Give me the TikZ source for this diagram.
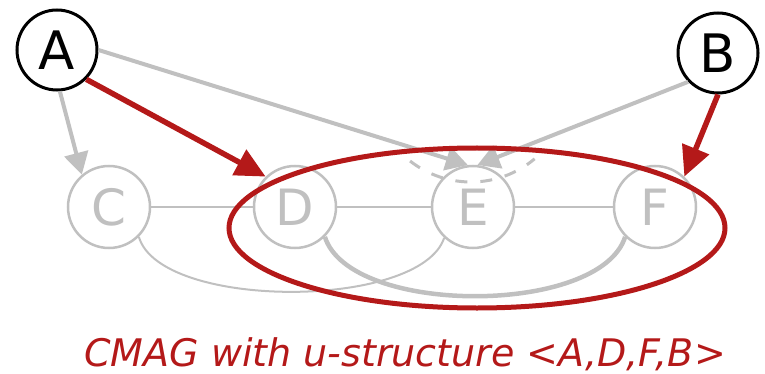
\documentclass[tikz,border=0pt]{standalone}
\usepackage{fontspec}
\setmainfont{DejaVu Sans}
\usetikzlibrary{arrows.meta}
\definecolor{cgray}{RGB}{192,192,192}
\definecolor{cred}{RGB}{180,25,25}
\tikzset{
  obsnode/.style={circle, draw=black, line width=3pt, fill=white, minimum size=80pt, inner sep=0pt, font=\fontsize{53}{60}\selectfont},
  latnode/.style={circle, draw=cgray, line width=2.5pt, minimum size=82pt, inner sep=0pt, text=cgray, font=\fontsize{50}{60}\selectfont},
  gline/.style={draw=cgray, line width=2pt},
  gcurve/.style={draw=cgray, line width=2pt},
  gthick/.style={draw=cgray, line width=4.5pt},
  garrow/.style={draw=cgray, line width=4pt, -{Triangle[length=22pt,width=24pt]}},
  rarrow/.style={draw=cred, line width=5.5pt, -{Triangle[length=30pt,width=28pt]}},
  rellipse/.style={draw=cred, line width=5pt},
  gdash/.style={draw=cgray, line width=3pt, dash pattern=on 12pt off 13pt},
  title/.style={text=cred, font=\fontsize{38}{44}\selectfont\itshape, inner sep=0pt, text depth=0pt}
}
\begin{document}
\begin{tikzpicture}[x=1pt,y=-1pt]
\useasboundingbox (0,0) rectangle (765,374);
% gray nodes
\node[latnode] (C) at (109,207) {C};
\node[latnode] (D) at (295,207) {D};
\node[latnode] (E) at (473,207) {E};
\node[latnode] (F) at (655,207) {F};
% gray undirected edges
\draw[gline] (C) -- (D);
\draw[gline] (D) -- (E);
\draw[gline] (E) -- (F);
\draw[gcurve] (C.-45) .. controls (160,310) and (420,310) .. (E.-133);
\draw[gthick] (D.-45) .. controls (350,316) and (600,316) .. (F.-135);
% dashed arc above E
\coordinate (arcc) at (471,83);
\draw[gdash] (arcc) ++(-128:99pt) arc[start angle=-128, end angle=-50, radius=99pt];
% black nodes
\node[obsnode] (A) at (57,50) {A};
\node[obsnode] (B) at (718,53) {B};
% gray arrows
\draw[garrow] (A.-86) -- (C.130);
\draw[garrow] (A.0) -- (E.97);
\draw[garrow] (B.224) -- (E.84);
% red ellipse
\draw[rellipse] (477,228) ellipse[x radius=248, y radius=80];
% red arrows
\draw[rarrow] (A.-45) -- (D.134);
\draw[rarrow] (B.270) -- (F.46);
% caption
\node[title, anchor=base west] (T) at (84,366) {CMAG with u-structure <A,D,F,B>};
\end{tikzpicture}
\end{document}
